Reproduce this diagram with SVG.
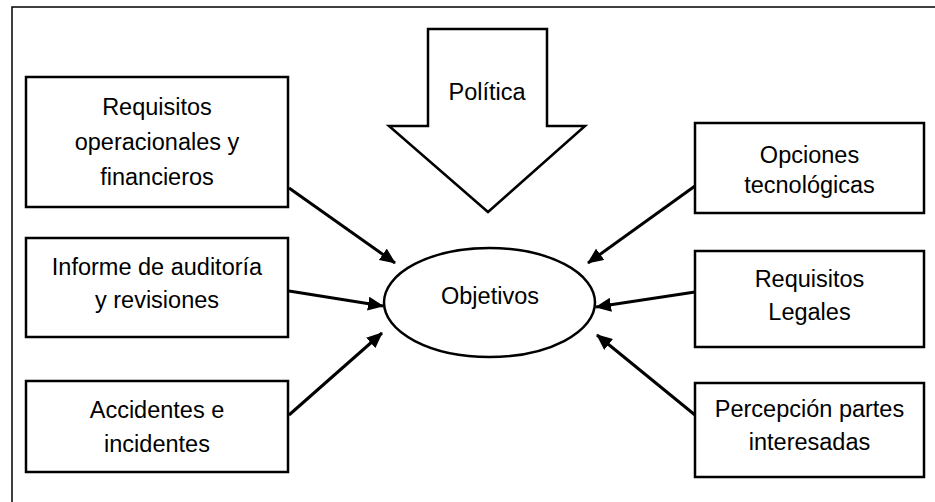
<svg xmlns="http://www.w3.org/2000/svg" width="935" height="502" viewBox="0 0 935 502">
<defs>
<marker id="ah" markerWidth="16" markerHeight="14" refX="15" refY="7" orient="auto" markerUnits="userSpaceOnUse">
<path d="M0,0 L16,7 L0,14 Z" fill="#000"/>
</marker>
<style>
.box{fill:#fff;stroke:#000;stroke-width:2.5}
.t{font-family:"Liberation Sans",Arial,sans-serif;font-size:23.5px;fill:#000;text-anchor:middle}
.c{stroke:#000;stroke-width:3;fill:none;marker-end:url(#ah)}
</style>
</defs>
<rect width="935" height="502" fill="#fff"/>
<path d="M12,502 L12,7 L935,7" fill="none" stroke="#000" stroke-width="1.5"/>
<g id="politica">
<path class="box" d="M428,29 L547,29 L547,126 L585,126 L488,212 L389,126 L428,126 Z"/>
<text class="t" x="487" y="100">Política</text>
</g>
<g id="objetivos">
<ellipse class="box" cx="489.5" cy="302.5" rx="105.5" ry="54.5"/>
<text class="t" x="490" y="304">Objetivos</text>
</g>
<g id="requisitos-operacionales">
<rect class="box" x="26" y="77" width="262" height="130"/>
<text class="t" x="157" y="115">Requisitos</text>
<text class="t" x="157" y="150">operacionales y</text>
<text class="t" x="157" y="185">financieros</text>
</g>
<g id="informe-auditoria">
<rect class="box" x="26" y="238" width="262" height="99"/>
<text class="t" x="157" y="275">Informe de auditoría</text>
<text class="t" x="157" y="308">y revisiones</text>
</g>
<g id="accidentes">
<rect class="box" x="26" y="381" width="262" height="91"/>
<text class="t" x="157" y="418">Accidentes e</text>
<text class="t" x="157" y="452">incidentes</text>
</g>
<g id="opciones">
<rect class="box" x="695" y="123" width="229" height="90"/>
<text class="t" x="809.5" y="163">Opciones</text>
<text class="t" x="809.5" y="193">tecnológicas</text>
</g>
<g id="requisitos-legales">
<rect class="box" x="695" y="251" width="229" height="96"/>
<text class="t" x="809.5" y="287">Requisitos</text>
<text class="t" x="809.5" y="320">Legales</text>
</g>
<g id="percepcion">
<rect class="box" x="695" y="383" width="229" height="94"/>
<text class="t" x="809.5" y="417">Percepción partes</text>
<text class="t" x="809.5" y="450">interesadas</text>
</g>
<g id="connectors">
<line class="c" x1="289" y1="188" x2="395" y2="263"/>
<line class="c" x1="289" y1="291" x2="383" y2="306"/>
<line class="c" x1="289" y1="415" x2="382" y2="333"/>
<line class="c" x1="695" y1="186" x2="588" y2="263"/>
<line class="c" x1="695" y1="292" x2="596" y2="307"/>
<line class="c" x1="695" y1="415" x2="597" y2="335"/>
</g>
</svg>
